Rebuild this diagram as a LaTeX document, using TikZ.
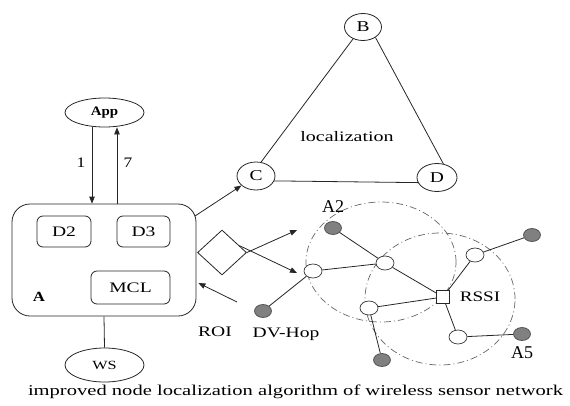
\documentclass[tikz,border=0pt]{standalone}
\usepackage{fontspec}
\setmainfont{Liberation Serif}
\usetikzlibrary{shapes.geometric,arrows.meta,calc}
\newcommand\sx[2][1.35]{\scalebox{#1}[1]{#2}}
\begin{document}
\begin{tikzpicture}[x=1pt,y=-1pt,
  ln/.style={draw=black!85, line width=0.8pt},
  arr/.style={ln, -{Triangle[length=7pt,width=5.5pt]}},
  lbl/.style={font=\fontsize{14.5}{16}\selectfont, inner sep=0pt},
  sbox/.style={ln, rounded corners=6pt, minimum height=31pt, inner sep=0pt, font=\fontsize{14.5}{16}\selectfont},
  circ/.style={ln, ellipse, minimum width=38pt, minimum height=28pt, inner sep=0pt, font=\fontsize{15}{16}\selectfont},
  gnode/.style={ellipse, draw=black!70, line width=0.7pt, fill=black!50, minimum width=17pt, minimum height=13pt, inner sep=0pt},
  wnode/.style={ellipse, draw=black!80, line width=0.7pt, fill=white, minimum width=18pt, minimum height=14pt, inner sep=0pt},
  zone/.style={draw=black!60, line width=0.7pt, dash pattern=on 7pt off 3pt on 1pt off 3pt},
]
\useasboundingbox (0,0) rectangle (570,405);

% left part
\node[ln, ellipse, minimum width=79pt, minimum height=29pt, inner sep=0pt, font=\fontsize{13}{15}\selectfont\bfseries] (App) at (104.5,112.5) {\sx[1.15]{App}};
\node[ln, rounded corners=18pt, minimum width=184pt, minimum height=112pt, inner sep=0pt] (A) at (104,260) {};
\node[sbox, minimum width=54pt] (D2) at (64,231.5) {\sx{D2}};
\node[sbox, minimum width=53pt] (D3) at (143.5,231.5) {\sx{D3}};
\node[sbox, minimum width=79pt, minimum height=33pt] (MCL) at (130.5,287.5) {\sx{MCL}};
\node[inner sep=0pt, font=\fontsize{14}{16}\selectfont\bfseries] (Alab) at (39,297) {\sx[1.2]{A}};
\node[ln, ellipse, minimum width=79pt, minimum height=34pt, inner sep=0pt, font=\fontsize{12.5}{14}\selectfont] (WS) at (104.5,365) {\sx[1.3]{WS}};

\draw[arr] ([xshift=-12.5pt]App.south) -- ([xshift=-12.5pt]App.south |- A.north);
\draw[arr] ([xshift=12.5pt]App.south |- A.north) -- ([xshift=12.5pt]App.south);
\node[lbl] (one) at (81,163) {\sx[1.2]{1}};
\node[lbl] (seven) at (128,163) {\sx[1.2]{7}};
\draw[ln] (A.south) -- (WS.north);

% triangle
\node[circ, minimum width=37pt, minimum height=27pt] (B) at (363,27) {\sx[1.3]{B}};
\node[circ] (C) at (256,176) {\sx[1.3]{C}};
\node[circ, minimum width=40pt] (D) at (437,177.5) {\sx[1.3]{D}};
\draw[ln] (C.70) -- (B.230);
\draw[ln] (B.-40) -- (D.65);
\draw[ln] (C.-15) -- (D.195);
\node[lbl] (loc) at (347,137) {\sx[1.38]{localization}};

\coordinate (Aout) at (195,216);
\draw[arr] (Aout) -- (C);

% diamond and arrows
\node[ln, diamond, aspect=1.09, minimum width=49pt, minimum height=45pt, inner sep=0pt] (dia) at (222,252.5) {};
\coordinate (t1) at (297,230);
\coordinate (t2) at (297,273);
\draw[arr] (dia.east) -- (t1);
\draw[arr] ($(dia.north)!0.7!(dia.east)$) -- (t2);
\coordinate (roiS) at (237,302);
\draw[arr] (roiS) -- ([xshift=2pt,yshift=-23pt]A.east);
\node[lbl] (roi) at (215,332) {\sx{ROI}};
\node[lbl] (dvhop) at (286,334) {\sx{DV-Hop}};

% network
\draw[zone] (381,262) ellipse [x radius=75pt, y radius=60pt];
\draw[zone] (440,299) ellipse [x radius=75pt, y radius=66pt];

\node[gnode] (g1) at (333,228) {};
\node[gnode] (g2) at (532,235) {};
\node[gnode] (g3) at (263,311) {};
\node[gnode] (g4) at (382,360) {};
\node[gnode] (g5) at (522,334) {};
\node[wnode] (w1) at (313,271) {};
\node[wnode] (w2) at (385,263) {};
\node[wnode] (w3) at (475,255) {};
\node[wnode] (w4) at (369,308) {};
\node[wnode] (w5) at (458,337) {};
\node[ln, fill=white, minimum width=13pt, minimum height=13pt, inner sep=0pt] (sq) at (443,297) {};

\draw[ln] (g1) -- (w2);
\draw[ln] (w1) -- (w2);
\draw[ln] (w1) -- (g3);
\draw[ln] (w2) -- (sq);
\draw[ln] (sq) -- (w3);
\draw[ln] (w3) -- (g2);
\draw[ln] (sq) -- (w4);
\draw[ln] (w4) -- (g4);
\draw[ln] (sq) -- (w5);
\draw[ln] (w5) -- (g5);

\node[lbl] (rssi) at (480,297) {\sx[1.32]{RSSI}};
\node[inner sep=0pt, font=\fontsize{18}{20}\selectfont] (a2) at (333,207) {A2};
\node[inner sep=0pt, font=\fontsize{18}{20}\selectfont] (a5) at (522,353) {A5};

% caption
\node[inner sep=0pt, font=\fontsize{15}{17}\selectfont] (cap) at (295.5,392) {\resizebox{535pt}{\height}{improved node localization algorithm of wireless sensor network}};
\end{tikzpicture}
\end{document}
